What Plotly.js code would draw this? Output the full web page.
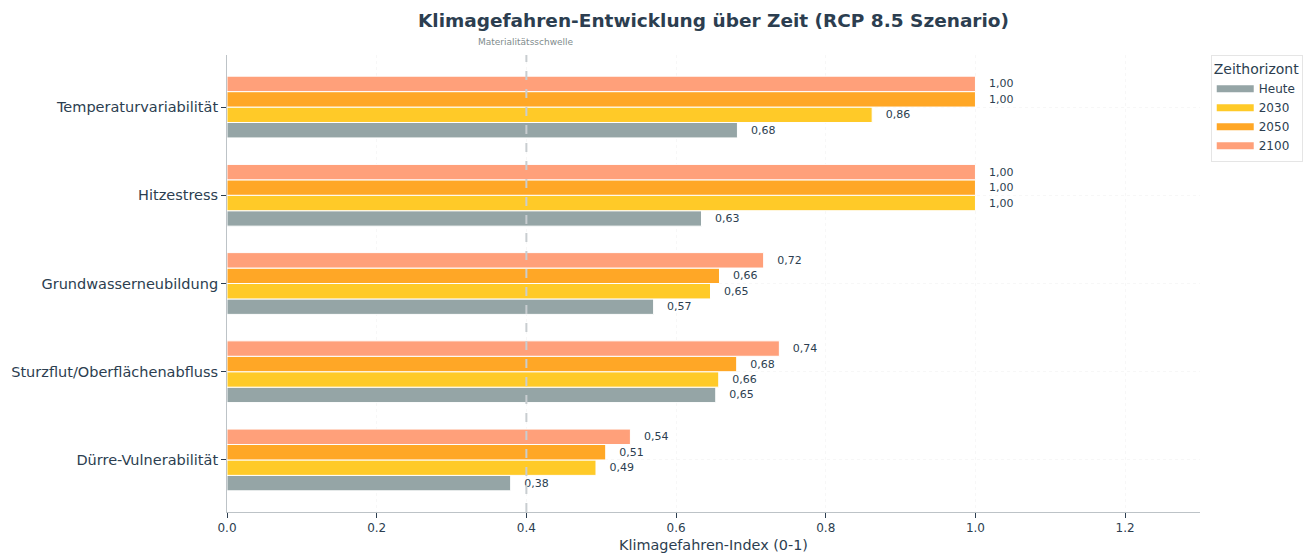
<!DOCTYPE html>
<html>
<head>
<meta charset="utf-8">
<script src="https://cdn.plot.ly/plotly-3.0.1.min.js"></script>
<style>
  body { margin: 0; background: #fff; }
  #chart { width: 1314px; height: 553px; }
</style>
</head>
<body>
<div id="chart"></div>
<script>
// Kategorien von unten nach oben (horizontale Balken)
const hazards = ['Dürre-Vulnerabilität', 'Sturzflut/Oberflächenabfluss', 'Grundwasserneubildung', 'Hitzestress', 'Temperaturvariabilität'];

const heute = [0.379, 0.653, 0.570, 0.634, 0.682];
const y2030 = [0.493, 0.657, 0.646, 1.000, 0.862];
const y2050 = [0.506, 0.681, 0.658, 1.000, 1.000];
const y2100 = [0.539, 0.738, 0.717, 1.000, 1.000];

const seriesNames = ['Heute', '2030', '2050', '2100'];
const seriesColors = ['#95a5a6', '#ffca28', '#ffa726', '#ffa07a'];

const threshold = 0.4;
const xTicks = [0, 0.2, 0.4, 0.6, 0.8, 1.0, 1.2];

const fontFamily = 'DejaVu Sans, sans-serif';
const dark = '#2c3e50';

function label(v) {
    return '\u00a0\u00a0\u00a0' + v.toFixed(2).replace('.', ',');
}

const series = [heute, y2030, y2050, y2100];

const traces = series.map((vals, i) => ({
    type: 'bar',
    orientation: 'h',
    name: seriesNames[i],
    legendgroup: seriesNames[i],
    showlegend: false,
    y: hazards,
    x: vals,
    text: vals.map(label),
    textposition: 'outside',
    constraintext: 'none',
    cliponaxis: false,
    textfont: { family: fontFamily, size: 11, color: dark },
    marker: { color: seriesColors[i], line: { color: '#ffffff', width: 1 } },
    hoverinfo: 'x+name'
}));

// Legendeneinträge als breite Balken-Symbole
series.forEach((vals, i) => {
    traces.push({
        type: 'scatter',
        mode: 'lines',
        name: seriesNames[i],
        legendgroup: seriesNames[i],
        x: [null],
        y: [null],
        line: { color: seriesColors[i], width: 7 },
        hoverinfo: 'skip'
    });
});

const layout = {
    width: 1314,
    height: 553,
    margin: { l: 227, r: 113, t: 55, b: 41 },
    paper_bgcolor: '#ffffff',
    plot_bgcolor: '#ffffff',
    font: { family: fontFamily, color: dark, size: 12 },
    title: {
        text: '<b>Klimagefahren-Entwicklung über Zeit (RCP 8.5 Szenario)</b>',
        font: { family: fontFamily, size: 18.5, color: dark },
        x: 0.5, xref: 'paper', xanchor: 'center',
        y: 0.963, yref: 'container', yanchor: 'middle'
    },
    barmode: 'group',
    bargap: 0.3,
    bargroupgap: 0,
    xaxis: {
        title: { text: 'Klimagefahren-Index (0-1)', font: { size: 14.4, color: dark }, standoff: 8 },
        range: [0, 1.3],
        tickvals: xTicks,
        ticktext: xTicks.map(v => v.toFixed(1)),
        tickfont: { size: 12, color: dark },
        ticks: 'outside', ticklen: 5, tickcolor: dark,
        showline: true, linecolor: '#bdc3c7', linewidth: 1,
        showgrid: true, gridcolor: '#f7f7f7', griddash: 'dot', gridwidth: 1,
        zeroline: false
    },
    yaxis: {
        range: [-0.59, 4.59],
        tickfont: { size: 14.5, color: dark },
        ticks: 'outside', ticklen: 5, tickcolor: dark,
        showline: true, linecolor: '#bdc3c7', linewidth: 1,
        showgrid: true, gridcolor: '#f7f7f7', griddash: 'dot', gridwidth: 1,
        zeroline: false
    },
    legend: {
        title: { text: 'Zeithorizont', font: { size: 14, color: dark } },
        font: { size: 12, color: dark },
        traceorder: 'normal',
        itemwidth: 37,
        x: 1.01, xanchor: 'left',
        y: 1, yanchor: 'top',
        bordercolor: '#e5e5e5', borderwidth: 1,
        bgcolor: '#ffffff'
    },
    shapes: [{
        type: 'line',
        xref: 'x', yref: 'paper',
        x0: threshold, x1: threshold, y0: 0, y1: 1,
        line: { color: '#c8cdd0', width: 2, dash: 'dash' }
    }],
    annotations: [{
        text: 'Materialitätsschwelle',
        xref: 'x', yref: 'paper',
        x: threshold, y: 1,
        xanchor: 'center', yanchor: 'bottom',
        yshift: 6,
        showarrow: false,
        font: { size: 9, color: '#7f8c8d' }
    }]
};

Plotly.newPlot('chart', traces, layout, { displayModeBar: false, responsive: false });
</script>
</body>
</html>
